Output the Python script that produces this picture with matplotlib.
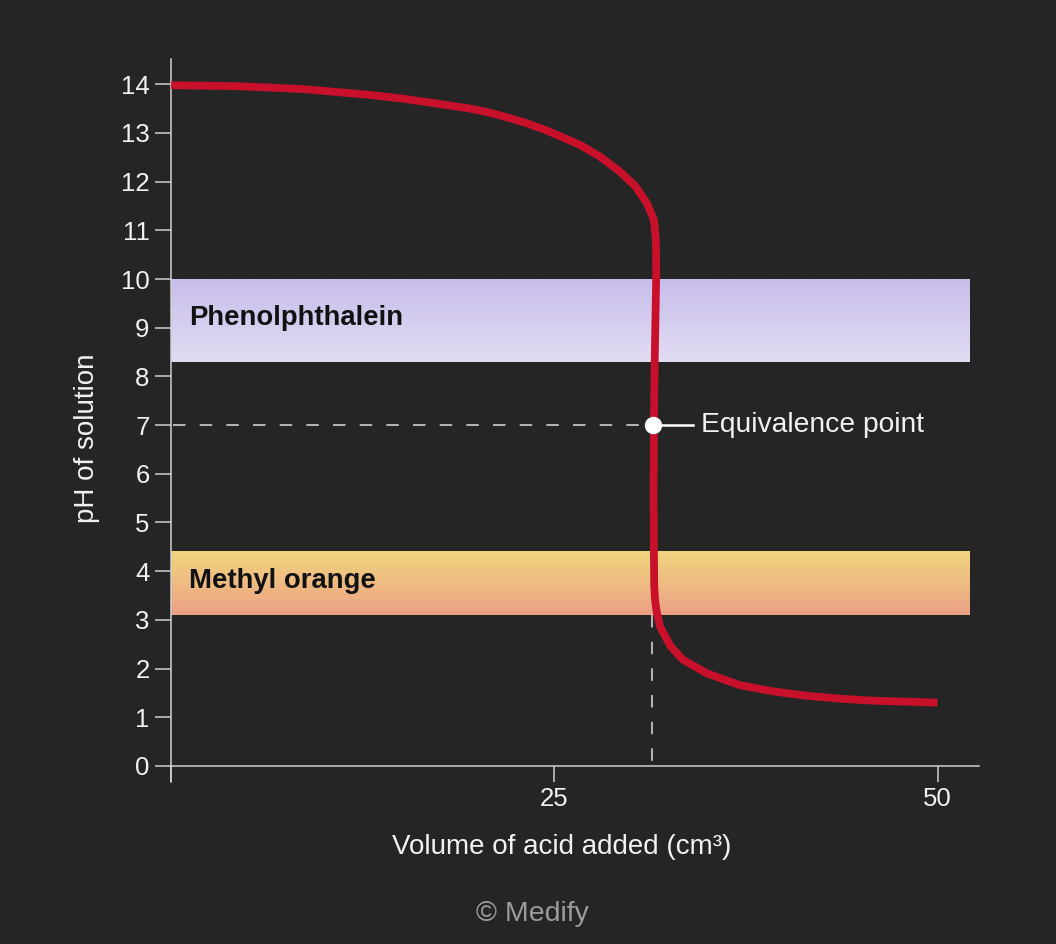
import numpy as np
import matplotlib.pyplot as plt
from matplotlib.colors import LinearSegmentedColormap

plt.rcParams['font.family'] = ['Liberation Sans', 'DejaVu Sans']

# titration curve (volume cm3, pH)
volume = [0, 2.1, 4.3, 6.5, 8.6, 10.8, 13.0, 15.2, 17.4, 19.5, 20.6, 21.7, 23.2, 24.5,
          25.4, 26.7, 28.0, 29.3, 30.3, 31.05, 31.5, 31.63, 31.65, 31.6, 31.55,
          31.5, 31.48, 31.5, 31.52, 31.57, 31.66, 31.9, 32.6, 33.4, 34.96, 37.1, 39.3,
          41.5, 43.7, 45.8, 48.0, 50.0]
ph = [13.98, 13.97, 13.96, 13.93, 13.90, 13.84, 13.78, 13.70, 13.60, 13.50, 13.43, 13.34, 13.20, 13.05,
      12.93, 12.75, 12.51, 12.20, 11.90, 11.55, 11.21, 10.80, 10.12, 9.2, 8.3,
      7.0, 5.6, 4.3, 3.7, 3.42, 3.20, 2.86, 2.45, 2.18, 1.90, 1.66, 1.53,
      1.44, 1.38, 1.34, 1.32, 1.30]

# indicator ranges
indicators = ['Phenolphthalein', 'Methyl orange']
ind_low = [8.3, 3.1]
ind_high = [10.0, 4.4]
band_end = 52.1

eq_volume = 31.45
eq_ph = 7.0

x_ticks = [0, 25, 50]
x_labels = ['', '25', '50']
y_ticks = list(range(0, 15))

bg = '#252525'
fg = '#f2f2f2'
axis_col = '#cfcfcf'

fig = plt.figure(figsize=(10.56, 9.44), dpi=100, facecolor=bg)
ax = fig.add_axes([0.162, 0.1716, 0.765, 0.766])
ax.set_facecolor(bg)
ax.set_xlim(0, 52.7)
ax.set_ylim(-0.33, 14.52)

# indicator bands with a soft vertical gradient
band_cmaps = [
    LinearSegmentedColormap.from_list('ph', ['#e2dcf3', '#c8bdeb']),
    LinearSegmentedColormap.from_list('mo', ['#eca186', '#f1d57e']),
]
grad = np.linspace(0, 1, 64).reshape(-1, 1)
for name, lo, hi, cm in zip(indicators, ind_low, ind_high, band_cmaps):
    ax.imshow(grad, cmap=cm, origin='lower', aspect='auto',
              extent=(0, band_end, lo, hi), zorder=1)
    ax.text(1.2, (lo + hi) / 2 + 0.05, name, fontsize=19.8, fontweight='bold',
            color='#111111', ha='left', va='center', zorder=3)

# reference dashes to the equivalence point
dash = (0, (7.5, 8.5))
ax.plot([0.1, eq_volume], [eq_ph, eq_ph], color=axis_col, lw=1.2, linestyle=dash, zorder=2)
ax.plot([eq_volume - 0.08, eq_volume - 0.08], [ind_low[1], 0], color=axis_col, lw=1.2,
        linestyle=dash, zorder=2)

ax.plot(volume, ph, color='#c8102b', lw=5.6, solid_capstyle='butt',
        solid_joinstyle='round', zorder=4)

# equivalence marker and label
ax.plot([eq_volume, eq_volume + 2.6], [eq_ph, eq_ph], color='white', lw=1.8, zorder=5)
ax.plot([eq_volume], [eq_ph], 'o', color='white', ms=11.5, zorder=6)
ax.text(eq_volume + 3.1, eq_ph, 'Equivalence point', fontsize=20.3, color=fg,
        ha='left', va='center', zorder=6)

# axes styling
for side in ['top', 'right']:
    ax.spines[side].set_visible(False)
ax.spines['bottom'].set_position(('data', 0))
ax.spines['bottom'].set_bounds(0, 52.7)
for side in ['left', 'bottom']:
    ax.spines[side].set_color(axis_col)
    ax.spines[side].set_linewidth(1.1)
    ax.spines[side].set_zorder(2.5)

ax.set_xticks(x_ticks)
ax.set_xticklabels(x_labels)
ax.set_yticks(y_ticks)
ax.tick_params(axis='both', colors=axis_col, labelcolor=fg, labelsize=18.5,
               length=11.5, width=1.1, direction='out')
ax.tick_params(axis='x', pad=4)
ax.tick_params(axis='y', pad=4)

ax.set_xlabel('Volume of acid added (cm³)', fontsize=20, color=fg)
ax.xaxis.set_label_coords(0.484, -0.072)
ax.set_ylabel('pH of solution', fontsize=20, color=fg)
ax.yaxis.set_label_coords(-0.088, 0.475)

fig.text(532 / 1056, 1 - 914 / 944, '© Medify', fontsize=20.5, color='#9a9a9a',
         ha='center', va='center')

fig.savefig('out.png', dpi=100, facecolor=bg)
